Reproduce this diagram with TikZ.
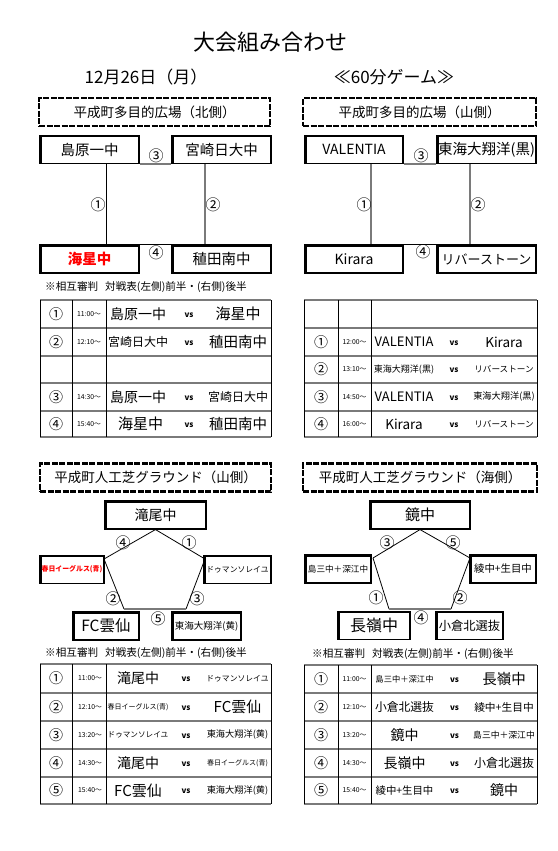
\documentclass[tikz,border=0pt]{standalone}
\usepackage{fontspec}
\setmainfont{Noto Sans CJK JP}
\usepackage{xcolor}
\definecolor{gridgray}{HTML}{7A7A7A}
\definecolor{teamred}{HTML}{FF0000}
\usetikzlibrary{positioning}
\newcommand{\fsz}[1]{\fontsize{#1}{#1}\selectfont}

\begin{document}
\begin{tikzpicture}[x=1pt, y=-1pt,
	teambox/.style={draw, line width=1.1pt, inner sep=0pt, minimum height=28pt,
		path picture={\draw[line width=3pt] (path picture bounding box.south west)
			-- (path picture bounding box.north west) -- (path picture bounding box.north east);}},
	headbox/.style={draw, line width=2.2pt, dash pattern=on 6pt off 1.5pt, inner sep=0pt,
		minimum height=28pt, font=\fsz{13.5}},
	circnum/.style={inner sep=0pt, font=\fsz{15}},
	rownum/.style={inner sep=0pt, font=\fsz{14}},
	timetxt/.style={inner sep=0pt, font=\fsz{6.8}},
	vstxt/.style={inner sep=0pt, font=\bfseries\fsz{8}},
	cell/.style={inner sep=0pt},
	note/.style={anchor=west, inner sep=0pt, font=\fsz{10.6}},
	hline/.style={gridgray, line width=1.1pt},
	vline/.style={black, line width=0.8pt},
	link/.style={black, line width=0.8pt},
	greylink/.style={gridgray, line width=1.2pt}]

	\fill[white] (0,0) rectangle (557,851);
	\useasboundingbox (0,0) rectangle (557,851);

	% ================= Title =================
	\node[inner sep=0pt] (title) at (270,42) {\fsz{22}大会組み合わせ};
	\node[inner sep=0pt] (date) at (146,77) {\fsz{17}12月26日（月）};
	\node[inner sep=0pt] (game) at (394,77) {\fsz{17}≪60分ゲーム≫};

	% ================= Top left: 多目的広場(北側) =================
	\node[headbox, minimum width=231pt] (headNW) at (154.5,112) {平成町多目的広場（北側）};

	\node[teambox, minimum width=99pt, font=\fsz{14.5}] (shimabara) at (89.5,149.5) {島原一中};
	\node[teambox, minimum width=99pt, font=\fsz{14.5}] (miyazaki) at (221.5,149.5) {宮崎日大中};
	\node[teambox, minimum width=99pt, font=\bfseries\fsz{14.5}, text=teamred] (kaisei) at (89.5,259) {海星中};
	\node[teambox, minimum width=99pt, font=\fsz{14.5}] (wasada) at (221.5,259) {稙田南中};

	\draw[greylink] (shimabara.south east) -- (miyazaki.south west);
	\draw[link] ([xshift=16.5pt]shimabara.south) -- ([xshift=16.5pt]kaisei.north);
	\draw[greylink] ([xshift=-16.5pt]miyazaki.south) -- ([xshift=-16.5pt]wasada.north);
	\draw[link] (kaisei.north east) -- (wasada.north west);

	\node[circnum] (nw3) at (156,156) {③};
	\node[circnum] (nw1) at (98,205) {①};
	\node[circnum] (nw2) at (213,205) {②};
	\node[circnum] (nw4) at (156,253) {④};

	\node[note] (noteNW) at (45,287) {※相互審判\hspace{7pt}対戦表(左側)前半・(右側)後半};

	% match table
	\foreach \y in {300,328,356,383,411,437}
		\draw[hline] (40,\y) -- (271,\y);
	\foreach \x in {40,72,106,271}
		\draw[vline] (\x,300) -- (\x,437);
	\foreach \y/\gno/\gtime/\home/\away [count=\i] in {
		314/①/11:00〜/{\fsz{14}島原一中}/{\fsz{15}海星中},
		342/②/12:10〜/{\fsz{12}宮崎日大中}/{\fsz{14.5}稙田南中},
		397/③/14:30〜/{\fsz{14}島原一中}/{\fsz{12}宮崎日大中},
		424/④/15:40〜/{\fsz{15}\hspace{5pt}海星中}/{\fsz{14.5}稙田南中}}{
		\node[rownum] (nwno-\i) at (56,\y) {\gno};
		\node[timetxt] (nwtime-\i) at (89,\y) {\gtime};
		\node[cell] (nwhome-\i) at (138,\y) {\home};
		\node[vstxt] (nwvs-\i) at (189,\y+1) {vs};
		\node[cell] (nwaway-\i) at (238,\y) {\away};
	}

	% ================= Top right: 多目的広場(山側) =================
	\node[headbox, minimum width=233pt] (headNE) at (419.5,112) {平成町多目的広場（山側）};

	\node[teambox, minimum width=98pt, font=\fsz{14}] (valentia) at (354,149.5) {VALENTIA};
	\node[teambox, minimum width=99pt, font=\fsz{14.5}] (tokaiK) at (486.5,149.5) {東海大翔洋(黒)};
	\node[teambox, minimum width=98pt, font=\fsz{14}] (kirara) at (354,259) {Kirara};
	\node[teambox, minimum width=99pt, font=\fsz{13}] (river) at (486.5,259) {リバーストーン};

	\draw[greylink] (valentia.south east) -- (tokaiK.south west);
	\draw[greylink] ([xshift=17pt]valentia.south) -- ([xshift=17pt]kirara.north);
	\draw[greylink] ([xshift=-16.5pt]tokaiK.south) -- ([xshift=-16.5pt]river.north);
	\draw[link] (kirara.north east) -- (river.north west);

	\node[circnum] (ne3) at (421,156) {③};
	\node[circnum] (ne1) at (364,205) {①};
	\node[circnum] (ne2) at (478,205) {②};
	\node[circnum] (ne4) at (423,252) {④};

	% match table
	\foreach \y in {300,328,356,383,411,437}
		\draw[hline] (304,\y) -- (537,\y);
	\foreach \x in {304,338,371,537}
		\draw[vline] (\x,300) -- (\x,437);
	\foreach \y/\gno/\gtime/\home/\away [count=\i] in {
		342/①/12:00〜/{\fsz{13}VALENTIA}/{\fsz{13.5}Kirara},
		369.5/②/13:10〜/{\fsz{9}東海大翔洋(黒)}/{\fsz{8.6}リバーストーン},
		397/③/14:50〜/{\fsz{13}VALENTIA}/{\fsz{9.2}東海大翔洋(黒)},
		424/④/16:00〜/{\fsz{13.5}Kirara}/{\fsz{8.6}リバーストーン}}{
		\node[rownum] (neno-\i) at (321,\y) {\gno};
		\node[timetxt] (netime-\i) at (354.5,\y) {\gtime};
		\node[cell] (nehome-\i) at (404,\y) {\home};
		\node[vstxt] (nevs-\i) at (454,\y+1) {vs};
		\node[cell] (neaway-\i) at (504,\y) {\away};
	}

	% ================= Bottom left: 人工芝グラウンド(山側) =================
	\node[headbox, minimum width=231pt] (headSW) at (155.5,477.5) {平成町人工芝グラウンド（山側）};

	\node[teambox, minimum width=101pt, font=\fsz{14}] (taki) at (155.5,515) {滝尾中};
	\node[teambox, minimum width=64pt, font=\bfseries\fsz{6.9}, text=teamred] (kasuga) at (72,569.5) {春日イーグルス(青)};
	\node[teambox, minimum width=67pt, font=\fsz{7.8}] (douman) at (237.5,569.5) {ドゥマンソレイユ};
	\node[teambox, minimum width=66pt, font=\fsz{15.5}] (unzen) at (106,626) {FC雲仙};
	\node[teambox, minimum width=69pt, font=\fsz{9.5}] (tokaiY) at (206.5,626) {東海大翔洋(黄)};

	\coordinate (swL) at (104,559);
	\coordinate (swR) at (205,559);
	\coordinate (swBL) at (124,609);
	\coordinate (swBR) at (186,609);
	\draw[link] (taki.south) -- (swL);
	\draw[link] (taki.south) -- (swR);
	\draw[link] (swL) -- (swBL);
	\draw[link] (swR) -- (swBR);
	\draw[greylink] (swBL) -- (swBR);

	\node[circnum] (sw4) at (123,543) {④};
	\node[circnum] (sw1) at (189,543) {①};
	\node[circnum] (sw2) at (113,599) {②};
	\node[circnum] (sw3) at (197,599) {③};
	\node[circnum] (sw5) at (158,619) {⑤};

	\node[note] (noteSW) at (45,653) {※相互審判\hspace{7pt}対戦表(左側)前半・(右側)後半};

	% match table
	\foreach \y in {664,693,721,749,777,804}
		\draw[hline] (40,\y) -- (271,\y);
	\foreach \x in {40,72,106,271}
		\draw[vline] (\x,664) -- (\x,804);
	\foreach \y/\gno/\gtime/\home/\away [count=\i] in {
		678.5/①/11:00〜/{\fsz{14}滝尾中}/{\fsz{7.8}ドゥマンソレイユ},
		707/②/12:10〜/{\fsz{7}春日イーグルス(青)}/{\fsz{15}FC雲仙},
		735/③/13:20〜/{\fsz{7.6}ドゥマンソレイユ}/{\fsz{9.2}東海大翔洋(黄)},
		763/④/14:30〜/{\fsz{14}滝尾中}/{\fsz{7}春日イーグルス(青)},
		790.5/⑤/15:40〜/{\fsz{15}FC雲仙}/{\fsz{9.2}東海大翔洋(黄)}}{
		\node[rownum] (swno-\i) at (56,\y) {\gno};
		\node[timetxt] (swtime-\i) at (90,\y) {\gtime};
		\node[cell] (swhome-\i) at (138,\y) {\home};
		\node[vstxt] (swvs-\i) at (186,\y+1) {vs};
		\node[cell] (swaway-\i) at (237.5,\y) {\away};
	}

	% ================= Bottom right: 人工芝グラウンド(海側) =================
	\node[headbox, minimum width=234pt] (headSE) at (420,477.5) {平成町人工芝グラウンド（海側）};

	\node[teambox, minimum width=100pt, font=\fsz{15}] (kagami) at (420,515) {鏡中};
	\node[teambox, minimum width=66pt, font=\fsz{8.6}] (shimasan) at (338,569) {島三中＋深江中};
	\node[teambox, minimum width=66pt, font=\fsz{10.4}] (aya) at (503,569) {綾中+生目中};
	\node[teambox, minimum width=72pt, font=\fsz{16}] (nagamine) at (374,625.5) {長嶺中};
	\node[teambox, minimum width=67pt, font=\fsz{12.3}] (kokura) at (469.5,625.5) {小倉北選抜};

	\coordinate (seL) at (373,558);
	\coordinate (seR) at (470,558);
	\coordinate (seBL) at (389,609);
	\coordinate (seBR) at (451,609);
	\draw[link] (kagami.south) -- (seL);
	\draw[link] (kagami.south) -- (seR);
	\draw[link] (seL) -- (seBL);
	\draw[link] (seR) -- (seBR);
	\draw[greylink] (seBL) -- (seBR);

	\node[circnum] (se3) at (387,543) {③};
	\node[circnum] (se5) at (453,543) {⑤};
	\node[circnum] (se1) at (376,598) {①};
	\node[circnum] (se2) at (460,598) {②};
	\node[circnum] (se4) at (421,618) {④};

	\node[note] (noteSE) at (312,654) {※相互審判\hspace{7pt}対戦表(左側)前半・(右側)後半};

	% match table
	\foreach \y in {665,693,721,749,777,804}
		\draw[hline] (304,\y) -- (537,\y);
	\foreach \x in {304,338,371,537}
		\draw[vline] (\x,665) -- (\x,804);
	\foreach \y/\gno/\gtime/\home/\away [count=\i] in {
		679/①/11:00〜/{\fsz{8.3}島三中＋深江中}/{\fsz{14.5}長嶺中},
		707/②/12:10〜/{\fsz{11.8}小倉北選抜}/{\fsz{10.7}綾中+生目中},
		735/③/13:20〜/{\fsz{14}鏡中}/{\fsz{8.8}島三中＋深江中},
		763/④/14:30〜/{\fsz{14}長嶺中}/{\fsz{12}小倉北選抜},
		790.5/⑤/15:40〜/{\fsz{10.4}綾中+生目中}/{\fsz{14}鏡中}}{
		\node[rownum] (seno-\i) at (321,\y) {\gno};
		\node[timetxt] (setime-\i) at (354.5,\y) {\gtime};
		\node[cell] (sehome-\i) at (404.5,\y) {\home};
		\node[vstxt] (sevs-\i) at (454.5,\y+1) {vs};
		\node[cell] (seaway-\i) at (504,\y) {\away};
	}

\end{tikzpicture}
\end{document}
